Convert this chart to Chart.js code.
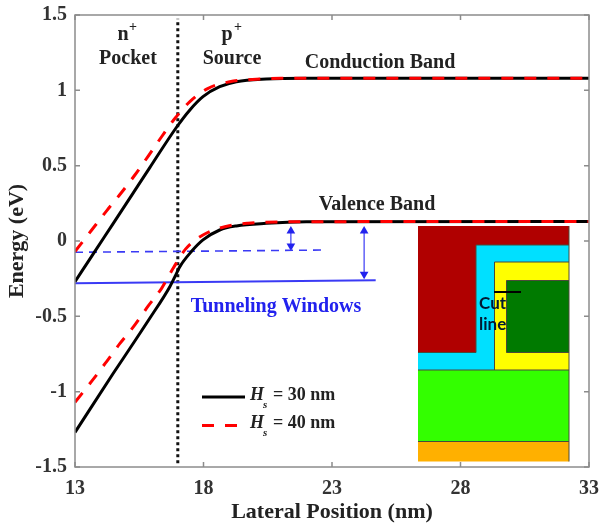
<!DOCTYPE html>
<html>
<head>
<meta charset="utf-8">
<style>
  html, body { margin: 0; padding: 0; background: #fff; }
  #wrap { width: 601px; height: 526px; }
  canvas { filter: blur(0.45px); }
</style>
<script src="https://cdn.jsdelivr.net/npm/chart.js@4"></script>
</head>
<body>
<div id="wrap"><canvas id="canvas" width="601" height="526"></canvas></div>
<script>
const xTicks = [13, 18, 23, 28, 33];
const yTicks = [-1.5, -1, -0.5, 0, 0.5, 1, 1.5];

const cond30X = [13, 13.71, 14.49, 15.14, 15.91, 16.95, 17.47, 17.98, 18.63, 19.28, 20.44, 22, 33];
const cond30Y = [-0.27, -0.085, 0.117, 0.286, 0.487, 0.755, 0.87, 0.958, 1.024, 1.057, 1.075, 1.08, 1.08];
const cond40X = [13, 13.65, 14.23, 14.81, 15.33, 15.85, 16.37, 16.9, 17.47, 18.18, 19.02, 19.9, 21, 33];
const cond40Y = [-0.07, 0.073, 0.2, 0.322, 0.438, 0.564, 0.692, 0.816, 0.925, 1.013, 1.057, 1.072, 1.08, 1.08];
const val30X = [13, 14.49, 15.14, 15.91, 16.69, 16.95, 17.08, 17.53, 17.98, 18.63, 19.28, 20.44, 22, 33];
const val30Y = [-1.27, -0.878, -0.712, -0.513, -0.303, -0.215, -0.17, -0.07, 0.007, 0.073, 0.10, 0.117, 0.127, 0.13];
const val40X = [13, 13.69, 14.23, 14.75, 15.33, 15.85, 16.37, 16.82, 17.3, 17.98, 18.83, 19.73, 21, 33];
const val40Y = [-1.07, -0.922, -0.80, -0.68, -0.557, -0.431, -0.314, -0.181, -0.054, 0.04, 0.095, 0.118, 0.127, 0.13];

const windowDashedX = [13, 22.7];
const windowDashedY = [-0.075, -0.06];
const windowSolidX = [13, 24.7];
const windowSolidY = [-0.28, -0.26];
const arrowShortX = [21.4, 21.4];
const arrowShortY = [0.066, -0.033];
const arrowLongX = [24.25, 24.25];
const arrowLongY = [0.066, -0.22];
const dividerX = [17, 17];
const dividerY = [-1.475, 1.475];

function points(xs, ys) {
  return xs.map((x, i) => ({x, y: ys[i]}));
}

function curve(xs, ys, color, dash) {
  return {
    data: points(xs, ys),
    borderColor: color,
    borderWidth: 3,
    borderDash: dash,
    pointRadius: 0,
    cubicInterpolationMode: 'monotone',
  };
}

function straight(xs, ys, color, width, dash) {
  return {
    data: points(xs, ys),
    borderColor: color,
    borderWidth: width,
    borderDash: dash,
    pointRadius: 0,
  };
}

function arrow(xs, ys) {
  return {
    data: points(xs, ys),
    borderColor: '#3a3af5',
    backgroundColor: '#2222ee',
    borderWidth: 1.2,
    pointStyle: 'triangle',
    pointRadius: 5,
    pointBorderWidth: 0,
    pointRotation: [0, 180],
  };
}

const SERIF = '"Liberation Serif", serif';
const TEXT = '#222';
const BLUE = '#2222ee';

// schematic in the corner, just a picture so pixels are fine here
const insetRects = [
  [418, 226, 151, 144, '#00e0ff'],
  [418, 226, 151, 19, '#b00000'],
  [418, 226, 58, 126.5, '#b00000'],
  [494.5, 262, 74.5, 108, '#ffff00'],
  [506.5, 280.5, 62.5, 72, '#007a00'],
  [418, 370, 151, 71.5, '#33ff00'],
  [418, 441.5, 151, 20, '#ffb000'],
];

function label(ctx, text, x, y, font, color, align) {
  ctx.font = font;
  ctx.fillStyle = color || TEXT;
  ctx.textAlign = align || 'left';
  ctx.textBaseline = 'middle';
  ctx.fillText(text, x, y);
}

const boxPlugin = {
  id: 'box',
  afterDatasetsDraw(chart) {
    const {ctx, chartArea: a, scales: {x, y}} = chart;
    ctx.save();
    ctx.strokeStyle = '#8c8c8c';
    ctx.lineWidth = 1.5;
    ctx.strokeRect(a.left, a.top, a.right - a.left, a.bottom - a.top);
    ctx.beginPath();
    for (const t of xTicks) {
      const px = x.getPixelForValue(t);
      ctx.moveTo(px, a.bottom);
      ctx.lineTo(px, a.bottom - 5);
      ctx.moveTo(px, a.top);
      ctx.lineTo(px, a.top + 5);
    }
    for (const t of yTicks) {
      const py = y.getPixelForValue(t);
      ctx.moveTo(a.left, py);
      ctx.lineTo(a.left + 5, py);
      ctx.moveTo(a.right, py);
      ctx.lineTo(a.right - 5, py);
    }
    ctx.stroke();
    ctx.restore();
  },
};

const notesPlugin = {
  id: 'notes',
  afterDraw(chart) {
    const {ctx} = chart;
    ctx.save();

    const bold = `bold 20px ${SERIF}`;
    label(ctx, 'n', 123, 35, bold, TEXT, 'center');
    label(ctx, '+', 133, 27, `bold 14px ${SERIF}`, TEXT, 'center');
    label(ctx, 'Pocket', 128, 59, bold, TEXT, 'center');
    label(ctx, 'p', 227, 35, bold, TEXT, 'center');
    label(ctx, '+', 238, 27, `bold 14px ${SERIF}`, TEXT, 'center');
    label(ctx, 'Source', 232, 59, bold, TEXT, 'center');
    label(ctx, 'Conduction Band', 380, 63, bold, TEXT, 'center');
    label(ctx, 'Valence Band', 377, 205, bold, TEXT, 'center');
    label(ctx, 'Tunneling Windows', 276, 307, bold, BLUE, 'center');

    // legend
    ctx.lineWidth = 3;
    ctx.strokeStyle = '#000';
    ctx.beginPath();
    ctx.moveTo(202, 397);
    ctx.lineTo(245, 397);
    ctx.stroke();
    ctx.strokeStyle = '#ff0000';
    ctx.setLineDash([12, 11]);
    ctx.beginPath();
    ctx.moveTo(202, 425.5);
    ctx.lineTo(237, 425.5);
    ctx.stroke();
    ctx.setLineDash([]);
    const legendRows = [[395, 'H', '= 30 nm'], [423, 'H', '= 40 nm']];
    for (const [py, h, rest] of legendRows) {
      label(ctx, h, 250, py, `italic bold 18px ${SERIF}`);
      label(ctx, 's', 263, py + 10, `italic bold 11px ${SERIF}`);
      label(ctx, rest, 273, py, `bold 18px ${SERIF}`);
    }

    // inset
    ctx.strokeStyle = '#4a4a3a';
    ctx.lineWidth = 1;
    for (const [rx, ry, w, h, color] of insetRects) {
      ctx.fillStyle = color;
      ctx.fillRect(rx, ry, w, h);
    }
    ctx.beginPath();
    ctx.moveTo(476, 352.5); ctx.lineTo(476, 245); ctx.lineTo(569, 245);
    ctx.moveTo(418, 352.5); ctx.lineTo(476, 352.5);
    ctx.moveTo(494.5, 370); ctx.lineTo(494.5, 262); ctx.lineTo(569, 262);
    ctx.moveTo(569, 280.5); ctx.lineTo(506.5, 280.5); ctx.lineTo(506.5, 352.5); ctx.lineTo(569, 352.5);
    ctx.moveTo(418, 370); ctx.lineTo(569, 370);
    ctx.moveTo(418, 441.5); ctx.lineTo(569, 441.5);
    ctx.moveTo(569, 226); ctx.lineTo(569, 461.5);
    ctx.stroke();
    ctx.strokeStyle = '#000';
    ctx.lineWidth = 2;
    ctx.beginPath();
    ctx.moveTo(494, 292);
    ctx.lineTo(521, 292);
    ctx.stroke();
    label(ctx, 'Cut', 479, 304, 'bold 17px Lato, sans-serif', '#001a33');
    label(ctx, 'line', 479, 325, 'bold 17px Lato, sans-serif', '#001a33');

    ctx.restore();
  },
};

function renderBands() {
  const context = document.getElementById('canvas').getContext('2d');
  const tickFont = {family: SERIF, size: 20, weight: 'bold'};
  const titleFont = {family: SERIF, size: 22, weight: 'bold'};

  const config = {
    type: 'line',
    data: {
      datasets: [
        curve(cond40X, cond40Y, '#ff0000', [12, 11]),
        curve(val40X, val40Y, '#ff0000', [12, 11]),
        curve(cond30X, cond30Y, '#000', []),
        curve(val30X, val30Y, '#000', []),
        straight(windowDashedX, windowDashedY, '#3a3af5', 1.6, [8, 6]),
        straight(windowSolidX, windowSolidY, '#3a3af5', 2, []),
        arrow(arrowShortX, arrowShortY),
        arrow(arrowLongX, arrowLongY),
        straight(dividerX, dividerY, '#111', 3, [3, 3]),
      ],
    },
    options: {
      responsive: false,
      animation: false,
      parsing: false,
      layout: {padding: {top: 15, right: 4, left: 0, bottom: 0}},
      plugins: {legend: {display: false}, tooltip: {enabled: false}},
      scales: {
        x: {
          type: 'linear',
          min: 13,
          max: 33,
          afterBuildTicks: scale => { scale.ticks = xTicks.map(value => ({value})); },
          afterFit: scale => { scale.height = 59; },
          grid: {display: false},
          border: {display: false},
          ticks: {color: '#333', font: tickFont, padding: 2, maxRotation: 0, autoSkip: false},
          title: {display: true, text: 'Lateral Position (nm)', color: TEXT, font: titleFont, padding: {top: 1, bottom: 0}},
        },
        y: {
          type: 'linear',
          min: -1.5,
          max: 1.5,
          afterBuildTicks: scale => { scale.ticks = yTicks.map(value => ({value})); },
          afterFit: scale => { scale.width = 75; },
          grid: {display: false},
          border: {display: false},
          ticks: {color: '#333', font: tickFont, padding: 0, autoSkip: false, callback: value => String(value)},
          title: {display: true, text: 'Energy (eV)', color: TEXT, font: titleFont, padding: {top: 4, bottom: 0}},
        },
      },
    },
    plugins: [boxPlugin, notesPlugin],
  };

  return new Chart(context, config);
}

document.addEventListener('DOMContentLoaded', () => {
  renderBands();
});
</script>
</body>
</html>
